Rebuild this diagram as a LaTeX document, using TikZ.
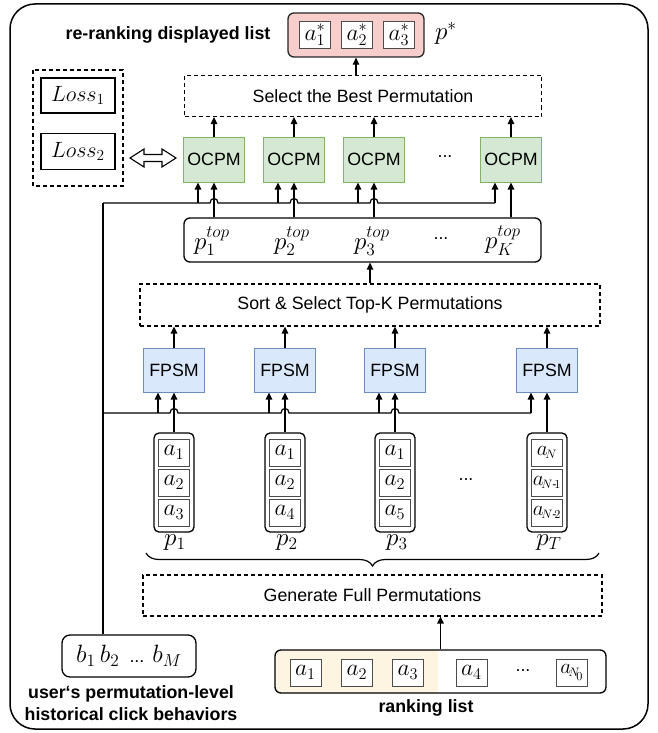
\RequirePackage{fix-cm}
\documentclass[tikz,border=0pt]{standalone}
\usepackage{amsmath}
\usepackage{fontspec}
\setmainfont{Liberation Sans}
\usetikzlibrary{arrows.meta,decorations.pathreplacing}
\definecolor{ocfill}{HTML}{D5E8D4}
\definecolor{ocdraw}{HTML}{82B366}
\definecolor{fpfill}{HTML}{DAE8FC}
\definecolor{fpdraw}{HTML}{6C8EBF}
\definecolor{pinkfill}{HTML}{F8CECC}
\definecolor{cream}{HTML}{FDF5E1}
\newcommand{\mytxt}{\fontsize{17.8}{22}\selectfont}
\newcommand{\mymth}{\fontsize{17.28}{20}\selectfont}
\newcommand{\mm}[1]{\scalebox{1.45}{$#1$}}
\newcommand{\ml}[1]{\scalebox{1.28}{$#1$}}
\newcommand{\mi}[1]{\scalebox{1.36}{$#1$}}
\newcommand{\ms}[1]{\scalebox{1.22}{$#1$}}
\tikzset{
 ln/.style={line width=1.2pt, draw=black},
 arr/.style={ln, -{Triangle[length=7pt,width=6.5pt]}},
 dbox/.style={draw, line width=1.1pt, dash pattern=on 4pt off 3pt, inner sep=0pt},
 ocpm/.style={draw=ocdraw, fill=ocfill, line width=1pt, minimum width=61pt, minimum height=45pt, font=\mytxt, inner sep=0pt},
 fpsm/.style={draw=fpdraw, fill=fpfill, line width=1pt, minimum width=61pt, minimum height=44pt, font=\mytxt, inner sep=0pt},
 item/.style={draw=black!70, line width=0.6pt, fill=white, minimum width=31pt, minimum height=27pt, inner sep=0pt, font=\mymth},
 col/.style={draw, line width=1.3pt, rounded corners=5pt, minimum width=40pt, minimum height=99pt, inner sep=0pt},
 rbox/.style={draw, line width=1.3pt, rounded corners=6pt, inner sep=0pt},
 lbl/.style={font=\mymth, inner sep=0pt},
 captxt/.style={font=\mytxt\bfseries, inner sep=0pt},
}
\begin{document}
\begin{tikzpicture}[x=1pt,y=-1pt]
\useasboundingbox (0,0) rectangle (658,733);
\draw[line width=1.5pt, rounded corners=25pt] (10,4) rectangle (648,729);

% top output
\node[captxt] (title) at (168,35) {re-ranking displayed list};
\node[rbox, draw=black!85, fill=pinkfill, minimum width=136pt, minimum height=44pt] (pink) at (356,35) {};
\node[item] (s1) at (315,35) {\mi{a_1^*}};
\node[item] (s2) at (357,35) {\mi{a_2^*}};
\node[item] (s3) at (399,35) {\mi{a_3^*}};
\node[lbl] (pstar) at (446,33) {\mm{p^*}};

\node[dbox, minimum width=357pt, minimum height=41pt, font=\mytxt] (sel) at (363,96) {Select the Best Permutation};
\draw[arr] (sel.north -| pink) -- (pink.south);

% losses
\draw[dbox] (33,70) rectangle (123,186);
\node[draw, line width=1.3pt, minimum width=74pt, minimum height=35pt, font=\mymth, inner sep=0pt] (l1) at (78,95.5) {\ml{Loss_1}};
\node[draw, line width=1.3pt, minimum width=74pt, minimum height=36pt, font=\mymth, inner sep=0pt] (l2) at (78,151.5) {\ml{Loss_2}};
\draw[line width=1.1pt, fill=white] (130,158) -- (144,149) -- (144,154.5) -- (162,154.5) -- (162,149) -- (176,158) -- (162,167) -- (162,161.5) -- (144,161.5) -- (144,167) -- cycle;

% OCPM
\foreach \i/\x in {1/214,2/294,3/374,4/511} \node[ocpm] (o\i) at (\x,159.5) {OCPM};
\node[font=\mytxt] (od) at (445,157) {...};
\foreach \i in {1,...,4} \draw[arr] (o\i.north) -- (o\i.north |- sel.south);

% p top
\node[rbox, minimum width=357pt, minimum height=44pt] (pt) at (362.5,240) {};
\node[lbl] (pt1) at (212,241) {\mm{p_1^{top}}};
\node[lbl] (pt2) at (292,241) {\mm{p_2^{top}}};
\node[lbl] (pt3) at (372,241) {\mm{p_3^{top}}};
\node[font=\mytxt] (ptd) at (441,239) {...};
\node[lbl] (pt4) at (503,241) {\mm{p_K^{top}}};
\foreach \i in {1,...,4} \draw[arr] (pt.north -| o\i) -- (o\i.south);

% behaviour line (top)
\coordinate (j1) at (103,203);
\draw[ln] (j1) -- (210,203) .. controls (210,197) and (218,197) .. (218,203)
  -- (290,203) .. controls (290,197) and (298,197) .. (298,203)
  -- (370,203) .. controls (370,197) and (378,197) .. (378,203) -- (495,203);
\foreach \i/\x in {1/198,2/278,3/358,4/495} {
  \coordinate (h\i) at (\x,203);
  \draw[arr] (h\i) -- (h\i |- o\i.south);
}

% sort
\node[dbox, minimum width=460pt, minimum height=42pt, font=\mytxt] (sort) at (370,305) {Sort \& Select Top-K Permutations};
\draw[arr] (sort.north) -- (sort.north |- pt.south);

% FPSM
\foreach \i/\x in {1/174,2/285,3/395,4/547} \node[fpsm] (f\i) at (\x,370) {FPSM};
\foreach \i in {1,...,4} \draw[arr] (f\i.north) -- (f\i.north |- sort.south);

% behaviour line (bottom)
\coordinate (j2) at (103,413);
\draw[ln] (j2) -- (170,413) .. controls (170,407) and (178,407) .. (178,413)
  -- (281,413) .. controls (281,407) and (289,407) .. (289,413)
  -- (391,413) .. controls (391,407) and (399,407) .. (399,413) -- (531,413);
\foreach \i/\x in {1/158,2/269,3/379,4/531} {
  \coordinate (g\i) at (\x,413);
  \draw[arr] (g\i) -- (g\i |- f\i.south);
}

% permutation columns
\foreach \i/\x in {1/174,2/285,3/395,4/547} \node[col] (c\i) at (\x,482.5) {};
\node[item] (c1a) at (174,452.5) {\mi{a_1}};
\node[item] (c1b) at (174,482.5) {\mi{a_2}};
\node[item] (c1c) at (174,512.5) {\mi{a_3}};
\node[item] (c2a) at (285,452.5) {\mi{a_1}};
\node[item] (c2b) at (285,482.5) {\mi{a_2}};
\node[item] (c2c) at (285,512.5) {\mi{a_4}};
\node[item] (c3a) at (395,452.5) {\mi{a_1}};
\node[item] (c3b) at (395,482.5) {\mi{a_2}};
\node[item] (c3c) at (395,512.5) {\mi{a_5}};
\node[item] (c4a) at (547,452.5) {\ms{a_{\!\scriptscriptstyle N}}};
\node[item] (c4b) at (547,482.5) {\ms{a_{\!\scriptscriptstyle N\text{-}\!1}}};
\node[item] (c4c) at (547,512.5) {\ms{a_{\!\scriptscriptstyle N\text{-}\!2}}};
\foreach \i in {1,...,4} \draw[arr] (c\i.north) -- (f\i.south);
\node[lbl] (pl1) at (175,543) {\mm{p_1}};
\node[lbl] (pl2) at (287,543) {\mm{p_2}};
\node[lbl] (pl3) at (397,543) {\mm{p_3}};
\node[lbl] (pl4) at (549,543) {\mm{p_T}};
\node[font=\mytxt] (cd) at (466,480) {...};

% brace
\draw[ln, decorate, decoration={brace, amplitude=13pt, mirror}] (146,553) -- (599,553);

% generate
\node[dbox, minimum width=459pt, minimum height=41pt, font=\mytxt] (gen) at (372.5,595.5) {Generate Full Permutations};

% ranking list
\fill[cream, rounded corners=6pt] (438,650) -- (275,650) -- (275,693) -- (438,693);
\node[rbox, minimum width=331pt, minimum height=43pt] (rank) at (440.5,671.5) {};
\node[item] (r1) at (305.5,672.5) {\mi{a_1}};
\node[item] (r2) at (357,672.5) {\mi{a_2}};
\node[item] (r3) at (408,672.5) {\mi{a_3}};
\node[item] (r4) at (471.5,672.5) {\mi{a_4}};
\node[font=\mytxt] (rd) at (523,671) {...};
\node[item] (r5) at (572,672.5) {\ms{a_{\!\scriptscriptstyle N_{\!0}}}};
\draw[arr] (rank.north) -- (rank.north |- gen.south);
\node[captxt] (rcap) at (426,708) {ranking list};

% behaviours
\node[rbox, rounded corners=8pt, minimum width=134pt, minimum height=42pt, font=\mymth] (bx) at (129,656) {\mm{b_1}\hspace{4pt}\mm{b_2}\hspace{10pt}{\mytxt ...}\hspace{8pt}\mm{b_M}};
\draw[ln] (bx.north -| j1) -- (j1);
\node[captxt, align=center] (bcap) at (131,703) {user‘s permutation-level\\historical click behaviors};
\end{tikzpicture}
\end{document}
